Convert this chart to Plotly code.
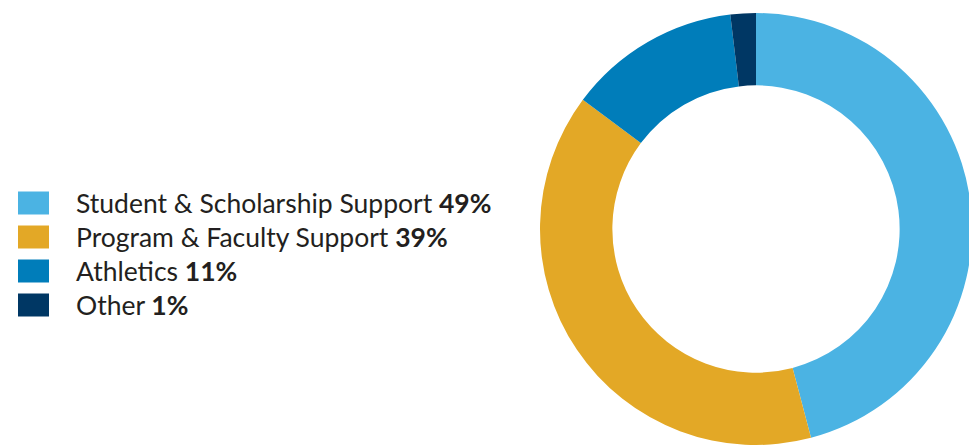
import plotly.graph_objects as go

categories = ["Student & Scholarship Support", "Program & Faculty Support", "Athletics", "Other"]
label_pcts = ["49%", "39%", "11%", "1%"]
slice_values = [45.9, 39.3, 12.9, 1.9]
colors = ["#4BB3E3", "#E3A826", "#007DBA", "#003764"]

OFF = 8  # page body margin offset
W, H = 977 - OFF, 448 - OFF

def px_x(x):
    return (x - OFF) / W

def px_y(y):
    return 1 - (y - OFF) / H

fig = go.Figure(go.Pie(
    labels=categories,
    values=slice_values,
    marker=dict(colors=colors, line=dict(width=0)),
    hole=0.665,
    sort=False,
    direction="clockwise",
    rotation=0,
    textinfo="none",
    hoverinfo="label",
    showlegend=False,
    domain=dict(x=[px_x(540), px_x(972)], y=[px_y(445), px_y(13)]),
))

shapes = []
annotations = []
row_y0 = 203
row_gap = 34
for i, (cat, pct, col) in enumerate(zip(categories, label_pcts, colors)):
    yc = row_y0 + i * row_gap
    shapes.append(dict(
        type="rect", xref="paper", yref="paper",
        x0=px_x(18), x1=px_x(49),
        y0=px_y(yc + 11.5), y1=px_y(yc - 11.5),
        fillcolor=col, line=dict(width=0),
    ))
    annotations.append(dict(
        xref="paper", yref="paper",
        x=px_x(74), y=px_y(yc - 0.5),
        xanchor="left", yanchor="middle",
        text=f"{cat} <b>{pct}</b>",
        showarrow=False,
        font=dict(family="Lato", size=26.5, color="#231F20"),
    ))

fig.update_layout(
    width=W, height=H,
    margin=dict(l=0, r=0, t=0, b=0),
    paper_bgcolor="white",
    plot_bgcolor="white",
    shapes=shapes,
    annotations=annotations,
)

fig.write_html("out.html")
